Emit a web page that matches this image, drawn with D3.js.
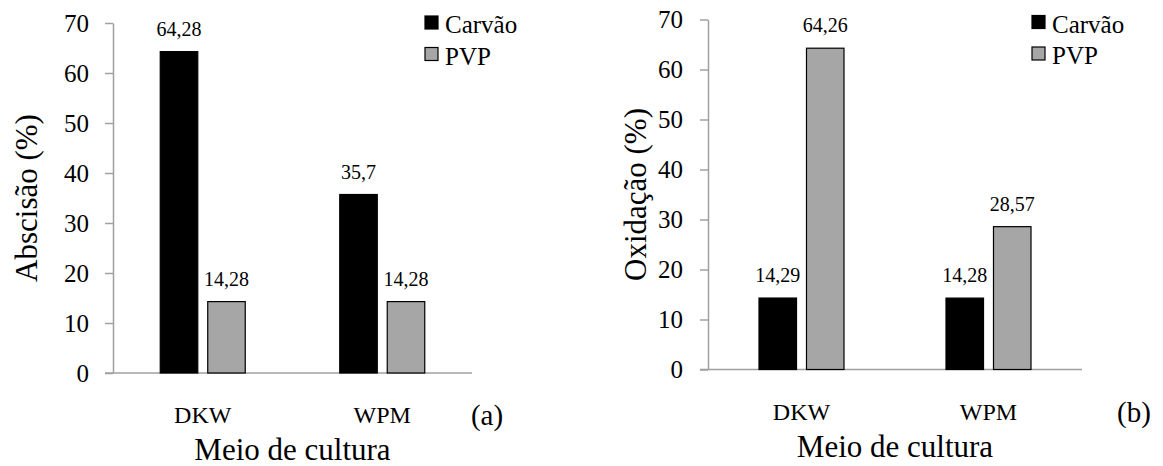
<!DOCTYPE html>
<html>
<head>
<meta charset="utf-8">
<script src="https://cdn.jsdelivr.net/npm/d3@7"></script>
<style>
  body { margin: 0; background: #fff; }
  svg text { font-family: "Liberation Serif", "Times New Roman", serif !important; fill: #000; }
</style>
</head>
<body>
<svg id="chart" width="1163" height="466"></svg>
<script>
// data
const categories = ["DKW", "WPM"];
const seriesNames = ["Carvão", "PVP"];
const abscisaoCarvao = [64.28, 35.7];
const abscisaoPVP = [14.28, 14.28];
const oxidacaoCarvao = [14.29, 14.28];
const oxidacaoPVP = [64.26, 28.57];
const yTicks = [0, 10, 20, 30, 40, 50, 60, 70];

const colors = { "Carvão": "#000000", "PVP": "#a6a6a6" };
const axisColor = "#a0a0a0";

const svg = d3.select("#chart");

function toRows(carvao, pvp) {
    return categories.map((c, i) => ({
        cat: c,
        values: [
            { name: "Carvão", v: carvao[i] },
            { name: "PVP", v: pvp[i] }
        ]
    }));
}

function drawPanel(p) {
    const g = svg.append("g");

    const x = d3.scaleBand().domain(categories).range([p.x0, p.x1]).padding(0);
    const xs = d3.scaleBand().domain(seriesNames).range([-42.5, 42.5]).paddingInner(0.21);
    const y = d3.scaleLinear().domain([0, 70]).range([p.yBot, p.yTop]);

    // y axis
    const yAxis = g.append("g")
        .attr("transform", `translate(${p.x0},0)`)
        .call(d3.axisLeft(y).tickValues(yTicks).tickSize(8).tickSizeOuter(0).tickPadding(p.tickPad));
    yAxis.select(".domain").attr("stroke", axisColor).attr("stroke-width", 1.5);
    yAxis.selectAll(".tick line").attr("stroke", axisColor).attr("stroke-width", 1.5);
    yAxis.selectAll(".tick text")
        .attr("font-size", 25)
        .attr("fill", "#000");

    // baseline
    g.append("line")
        .attr("x1", p.x0 - 8).attr("x2", p.x1)
        .attr("y1", y(0)).attr("y2", y(0))
        .attr("stroke", axisColor).attr("stroke-width", 1.5);

    // bars
    const groups = g.selectAll(".grp")
        .data(p.rows)
        .join("g")
        .attr("class", "grp")
        .attr("transform", d => `translate(${x(d.cat) + x.bandwidth() / 2},0)`);

    groups.selectAll("rect")
        .data(d => d.values)
        .join("rect")
        .attr("x", d => xs(d.name))
        .attr("width", xs.bandwidth())
        .attr("y", d => y(d.v))
        .attr("height", d => y(0) - y(d.v))
        .attr("fill", d => colors[d.name])
        .attr("stroke", "#000")
        .attr("stroke-width", 1.2);

    groups.selectAll("text.val")
        .data(d => d.values)
        .join("text")
        .attr("class", "val")
        .attr("x", d => xs(d.name) + xs.bandwidth() / 2)
        .attr("y", d => y(d.v) - 16)
        .attr("text-anchor", "middle")
        .attr("font-size", 20)
        .text(d => String(d.v).replace(".", ","));

    // category labels
    g.selectAll("text.cat")
        .data(categories)
        .join("text")
        .attr("class", "cat")
        .attr("x", d => x(d) + x.bandwidth() / 2)
        .attr("y", y(0) + 50)
        .attr("text-anchor", "middle")
        .attr("font-size", 24)
        .text(d => d);

    // axis titles
    g.append("text")
        .attr("transform", `translate(${p.titleX},${(p.yTop + p.yBot) / 2}) rotate(-90)`)
        .attr("text-anchor", "middle")
        .attr("font-size", 31)
        .text(p.yTitle);

    g.append("text")
        .attr("x", (p.x0 + p.x1) / 2)
        .attr("y", y(0) + 87)
        .attr("text-anchor", "middle")
        .attr("font-size", 31)
        .text("Meio de cultura");

    g.append("text")
        .attr("x", p.letterX)
        .attr("y", y(0) + 52)
        .attr("text-anchor", "middle")
        .attr("font-size", 29)
        .text(p.letter);

    // legend
    const leg = g.selectAll(".leg")
        .data(seriesNames)
        .join("g")
        .attr("class", "leg")
        .attr("transform", (d, i) => `translate(${p.legendX},${p.legendY + i * 31.5})`);
    leg.append("rect")
        .attr("width", 13).attr("height", 13)
        .attr("fill", d => colors[d])
        .attr("stroke", "#000").attr("stroke-width", 1.2);
    leg.append("text")
        .attr("x", 20).attr("y", 17)
        .attr("font-size", 25)
        .text(d => d);
}

drawPanel({
    rows: toRows(abscisaoCarvao, abscisaoPVP),
    x0: 113, x1: 472, yTop: 23, yBot: 373, tickPad: 16,
    titleX: 37, yTitle: "Abscisão (%)",
    letter: "(a)", letterX: 487,
    legendX: 425, legendY: 16
});

drawPanel({
    rows: toRows(oxidacaoCarvao, oxidacaoPVP),
    x0: 708, x1: 1082, yTop: 19.5, yBot: 369.5, tickPad: 17,
    titleX: 646, yTitle: "Oxidação (%)",
    letter: "(b)", letterX: 1134,
    legendX: 1032, legendY: 15.5
});
</script>
</body>
</html>
